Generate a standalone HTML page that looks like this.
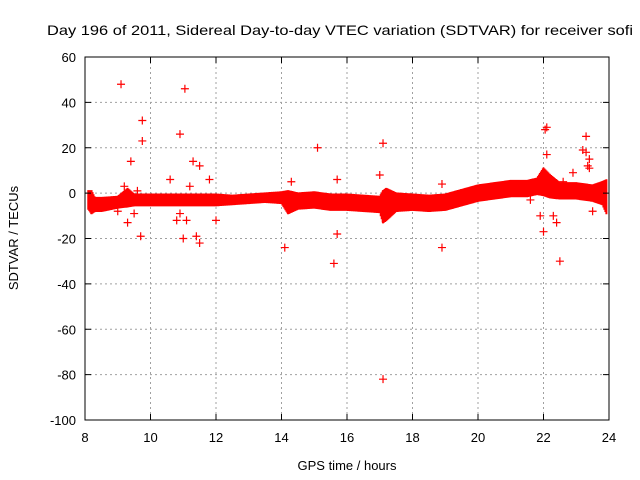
<!DOCTYPE html>
<html><head><meta charset="utf-8"><style>
body{margin:0;background:#fff}
svg{display:block;font-family:"Liberation Sans",sans-serif;font-size:13px}
</style></head><body>
<svg id="c" width="640" height="480">
<text x="47" y="35" font-size="14" textLength="586" lengthAdjust="spacingAndGlyphs">Day 196 of 2011, Sidereal Day-to-day VTEC variation (SDTVAR) for receiver sofi</text>
<g id="grid"></g><g id="band"></g><g id="pts"></g><g id="axes"></g>
<text x="347" y="470" text-anchor="middle">GPS time / hours</text>
<text transform="translate(18,238) rotate(-90)" text-anchor="middle">SDTVAR / TECUs</text>
</svg>
<script>
const xTicks=[8,10,12,14,16,18,20,22,24];
const yTicks=[60,40,20,0,-20,-40,-60,-80,-100];
const bandHours=[8.1,8.2,8.3,8.5,9,9.3,9.5,10,10.5,11,11.5,12,12.5,13,13.5,14,14.2,14.5,15,15.5,16,16.5,17,17.1,17.2,17.5,18,18.5,19,19.5,20,20.5,21,21.5,21.8,22,22.2,22.5,23,23.5,23.8,23.95];
const bandCenter=[-3,-4,-5,-5,-4,-2,-3,-3,-3,-3,-3,-3,-3,-2.5,-2,-2,-4,-3.5,-3,-4,-4,-4.5,-5,-6,-5,-4,-4,-4.5,-4,-2,0,1,2,2,3,5,3,1,1,0,0,-2];
const bandHalf=[3,4,2,2,1.5,3,1.5,1.5,1.5,1.5,1.5,1.5,1,1,1,1.5,4,2.5,2.5,2.5,2.5,2.5,2.5,6,6,3,2.5,2.5,2.5,2.5,2.5,2.5,2.5,2.5,2.5,5,4,2.5,2.5,2.5,4,7];
const outX=[9.1,11.05,9.75,9.75,10.9,9.4,11.3,11.5,15.1,17.1,17.1,22.1,22.05,23.3,22.1,23.2,9.0,9.3,9.7,11,11.5,11.4,14.1,15.6,15.7,18.9,22.5,22,22.4,9.2,9.5,10.6,10.9,11.1,11.8,12,14.3,15.7,17,18.9,21.6,21.9,22.6,22.9,23.4,23.4,23.5,22.3,10.3,10.8,9.6,11.2,23.3,23.35];
const outY=[48,46,32,23,26,14,14,12,20,22,-82,29,28,25,17,19,-8,-13,-19,-20,-22,-19,-24,-31,-18,-24,-30,-17,-13,3,-9,6,-9,-12,6,-12,5,6,8,4,-3,-10,5,9,15,11,-8,-10,-2,-12,1,3,18,12];
const X0=85,X1=609,Y0=57,Y1=420;
const sx=h=>X0+(h-8)/16*(X1-X0), sy=v=>Y1-(v+100)/160*(Y1-Y0);
const NS="http://www.w3.org/2000/svg";
function mk(t,a,p){const e=document.createElementNS(NS,t);for(const k in a)e.setAttribute(k,a[k]);p.appendChild(e);return e;}
const grid=document.getElementById('grid'),axes=document.getElementById('axes');
xTicks.forEach(t=>{const x=sx(t);
 if(t>8&&t<24){const l=mk('line',{x1:x,x2:x,y1:Y0,y2:Y1,stroke:'#a0a0a0','stroke-dasharray':'2,3'},grid);}
 mk('line',{x1:x,x2:x,y1:Y1,y2:Y1-6,stroke:'#000'},axes);mk('line',{x1:x,x2:x,y1:Y0,y2:Y0+6,stroke:'#000'},axes);
 const tx=mk('text',{x:x,y:Y1+22,'text-anchor':'middle'},axes);tx.textContent=t;});
yTicks.forEach(t=>{const y=sy(t);
 if(t<60&&t>-100){const l=mk('line',{x1:X0,x2:X1,y1:y,y2:y,stroke:'#a0a0a0','stroke-dasharray':'2,3'},grid);}
 mk('line',{x1:X0,x2:X0+6,y1:y,y2:y,stroke:'#000'},axes);mk('line',{x1:X1,x2:X1-6,y1:y,y2:y,stroke:'#000'},axes);
 const tx=mk('text',{x:X0-9,y:y+5,'text-anchor':'end'},axes);tx.textContent=t;});
const fr=mk('rect',{x:X0,y:Y0,width:X1-X0,height:Y1-Y0,fill:'none',stroke:'#000'},axes);

function plus(x,y,g){const p=mk('path',{d:`M${x-4},${y}h8M${x},${y-4}v8`,stroke:'#f00','stroke-width':1.2},g);return p;}
const band=document.getElementById('band');
let d='';
for(let i=0;i<bandHours.length-1;i++){
 for(let h=bandHours[i];h<bandHours[i+1];h+=0.03){
  const f=(h-bandHours[i])/(bandHours[i+1]-bandHours[i]);
  const c=bandCenter[i]+f*(bandCenter[i+1]-bandCenter[i]);
  const w=bandHalf[i]+f*(bandHalf[i+1]-bandHalf[i]);
  d+=`M${sx(h)},${sy(c+w)-3}V${sy(c-w)+3}`;
 }}
const bp=mk('path',{d:d,stroke:'#f00','stroke-width':2},band);


const pts=document.getElementById('pts');
outX.forEach((h,i)=>{const p=plus(sx(h),sy(outY[i]),pts);
 
 });
</script>
</body></html>
